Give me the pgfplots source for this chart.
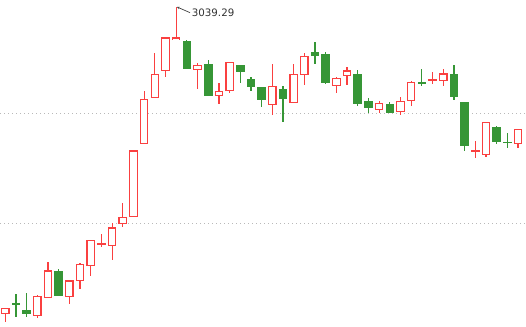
\documentclass[border=0pt]{standalone}
\usepackage{pgfplots}
\pgfplotsset{compat=1.18}
\usepackage{pgfplotstable}
\usepackage{fontspec}
\setmainfont{DejaVu Sans}
\usetikzlibrary{arrows.meta}
\definecolor{upred}{RGB}{250,64,64}
\definecolor{dngreen}{RGB}{54,150,54}
\definecolor{gridgray}{RGB}{185,185,185}

% rising candles: x open high low close
\pgfplotstableread{
x  o       h        l       c
0  2731.7  2737.7   2724.3  2737.7
3  2729.7  2750.7   2727.7  2749.7
4  2747.7  2784.0   2747.7  2775.7
6  2748.7  2765.7   2742.3  2765.7
7  2764.7  2783.3   2757.3  2781.7
8  2779.7  2805.7   2770.3  2805.7
9  2801.7  2812.3   2799.3  2803.3
10 2799.7  2822.7   2786.0  2818.7
11 2821.7  2843.0   2819.3  2829.0
12 2829.0  2895.7   2829.0  2895.7
13 2901.7  2955.0   2901.7  2946.7
14 2948.3  2993.3   2947.5  2972.0
15 2975.3  3008.7   2969.3  3008.7
16 3005.7  3039.29  3005.7  3008.7
18 2975.7  2983.3   2956.7  2980.7
20 2949.7  2963.3   2941.7  2954.7
21 2954.7  2984.0   2952.7  2984.0
25 2940.7  2982.0   2931.3  2959.7
27 2942.7  2982.0   2942.7  2971.7
28 2970.7  2992.7   2961.3  2989.7
31 2959.7  2968.7   2952.7  2967.7
32 2969.7  2979.0   2961.3  2975.7
35 2935.7  2945.3   2932.7  2942.7
37 2933.7  2949.0   2930.7  2944.7
38 2944.7  2964.7   2939.7  2963.7
40 2965.0  2973.7   2961.7  2966.7
41 2964.7  2976.7   2960.3  2972.7
44 2894.3  2905.0   2888.3  2896.0
45 2890.7  2923.7   2889.3  2923.7
48 2901.7  2916.7   2898.3  2916.7
}\uptable

% falling candles: x open high low close
\pgfplotstableread{
x  o       h        l       c
1  2742.7  2752.0   2729.3  2741.5
2  2736.0  2753.0   2728.7  2731.7
5  2775.0  2777.0   2750.3  2750.3
17 3005.0  3006.3   2977.0  2977.0
19 2982.0  2986.0   2950.3  2950.3
22 2981.0  2981.0   2962.7  2973.7
23 2967.0  2969.3   2955.0  2959.5
24 2959.0  2959.0   2939.3  2946.3
26 2956.7  2960.0   2924.3  2947.3
29 2994.0  3004.0   2982.3  2990.3
30 2992.0  2994.0   2962.3  2963.3
33 2972.0  2975.7   2940.3  2942.3
34 2945.0  2947.7   2932.7  2938.3
36 2942.0  2943.7   2933.5  2933.5
39 2964.0  2977.0   2960.3  2963.0
42 2972.0  2981.0   2946.3  2948.7
43 2944.0  2944.0   2895.3  2900.3
46 2919.0  2920.0   2902.3  2904.3
47 2904.0  2913.0   2898.3  2903.3
}\downtable

\begin{document}
\begin{tikzpicture}
\begin{axis}[
  scale only axis, width=526bp, height=327bp,
  xmin=-0.496, xmax=48.75, ymin=2719, ymax=3046,
  axis line style={draw=none},
  xtick=\empty, ytick={2822.5,2932.5}, yticklabels={},
  major tick length=0pt, ytick style={draw=none},
  ymajorgrids,
  grid style={line width=1bp, color=gridgray, dash pattern=on 1bp off 3bp},
  error bars/error mark=none,
]
% falling: wicks and filled bodies
\addplot[draw=none, mark=none, forget plot,
  error bars/.cd, y dir=both, y explicit,
  error bar style={line width=1.2bp, draw=dngreen}]
  table[x=x, y expr={(\thisrow{h}+\thisrow{l})/2}, y error expr={(\thisrow{h}-\thisrow{l})/2}] {\downtable};
\addplot[draw=none, mark=none, forget plot,
  error bars/.cd, y dir=both, y explicit,
  error bar style={line width=8.6bp, draw=dngreen}]
  table[x=x, y expr={(\thisrow{o}+\thisrow{c})/2}, y error expr={max(abs(\thisrow{o}-\thisrow{c})/2,0.7)}] {\downtable};
% rising: wicks, outlined bodies, white interiors
\addplot[draw=none, mark=none, forget plot,
  error bars/.cd, y dir=both, y explicit,
  error bar style={line width=1.2bp, draw=upred}]
  table[x=x, y expr={(\thisrow{h}+\thisrow{l})/2}, y error expr={(\thisrow{h}-\thisrow{l})/2}] {\uptable};
\addplot[draw=none, mark=none, forget plot,
  error bars/.cd, y dir=both, y explicit,
  error bar style={line width=8.6bp, draw=upred}]
  table[x=x, y expr={(\thisrow{o}+\thisrow{c})/2}, y error expr={max(abs(\thisrow{o}-\thisrow{c})/2,0.8)}] {\uptable};
\addplot[draw=none, mark=none, forget plot,
  error bars/.cd, y dir=both, y explicit,
  error bar style={line width=6.2bp, draw=white}]
  table[x=x, y expr={(\thisrow{o}+\thisrow{c})/2}, y error expr={max(abs(\thisrow{o}-\thisrow{c})/2-1.2,0)}] {\uptable};
% annotation of the highest price
\addplot[black!75, line width=0.7bp, {Stealth[length=2.5bp,width=2.5bp]}-, forget plot]
  coordinates {(16.08,3039.0) (17.3,3033.3)};
\addplot[draw=none, mark=none, forget plot, point meta=explicit symbolic,
  nodes near coords,
  every node near coord/.append style={anchor=west, inner sep=0pt, text=black!80,
    font=\fontsize{10.3}{11}\selectfont}]
  coordinates {(17.45,3033.3) [3039.29]};
\end{axis}
\pgfresetboundingbox
\path[use as bounding box] (current axis.south west) rectangle (current axis.north east);
\end{tikzpicture}
\end{document}
